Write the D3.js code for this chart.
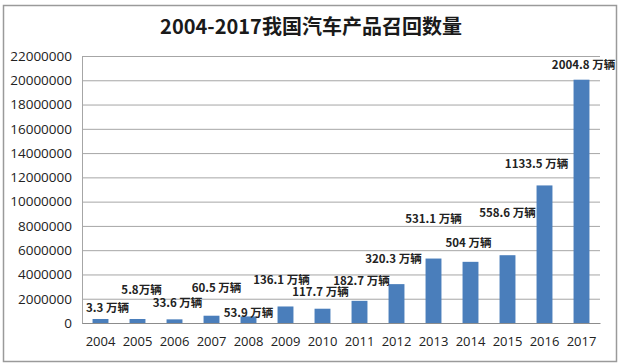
<!DOCTYPE html>
<html>
<head>
<meta charset="utf-8">
<script src="https://cdn.jsdelivr.net/npm/d3@7/dist/d3.min.js"></script>
<style>
  html, body { margin: 0; padding: 0; background: #fff; }
  svg { display: block; }
  .tick text { font-family: "Open Sans", "Noto Sans", sans-serif; fill: #222; }
  .bar-label { font-family: "Noto Sans CJK SC", sans-serif; font-weight: bold; fill: #222; }
</style>
</head>
<body>
<svg id="chart" width="620" height="364"></svg>
<script>
// chart data
const years = ['2004', '2005', '2006', '2007', '2008', '2009', '2010',
  '2011', '2012', '2013', '2014', '2015', '2016', '2017'];
// bar heights as drawn in the picture (vehicles)
const recalls = [330000, 330000, 300000, 600000, 540000, 1361000, 1177000,
  1827000, 3203000, 5311000, 5040000, 5586000, 11335000, 20048000];
// label texts as printed
const labels = ['3.3 万辆', '5.8万辆', '33.6 万辆', '60.5 万辆', '53.9 万辆', '136.1 万辆', '117.7 万辆',
  '182.7 万辆', '320.3 万辆', '531.1 万辆', '504 万辆', '558.6 万辆', '1133.5 万辆', '2004.8 万辆'];
const yTicks = [0, 2000000, 4000000, 6000000, 8000000, 10000000, 12000000,
  14000000, 16000000, 18000000, 20000000, 22000000];

// label nudges in px: [dx from bar centre, height of label centre above bar top]
const labelNudge = [[7, 11], [4, 29], [3, 16], [5, 28], [0, 3], [-4, 27], [-2, 17],
  [2, 20], [-3, 25], [0, 40], [-2, 19], [0, 42], [-8, 21], [2, 15]];

const svg = d3.select('#chart');
const margin = { top: 56, right: 20, bottom: 41, left: 82 };
const width = 620 - margin.left - margin.right;
const height = 364 - margin.top - margin.bottom;

// outer frame
svg.append('rect')
  .attr('x', 3.5).attr('y', 5.5)
  .attr('width', 613).attr('height', 356)
  .attr('fill', 'none')
  .attr('stroke', '#9a9a9a')
  .attr('stroke-width', 1.5);

svg.append('text')
  .attr('x', 311).attr('y', 34)
  .attr('text-anchor', 'middle')
  .attr('font-family', '"Noto Sans CJK SC", sans-serif')
  .attr('font-weight', 'bold')
  .attr('font-size', 20)
  .attr('fill', '#1a1a1a')
  .text('2004-2017我国汽车产品召回数量');

const g = svg.append('g').attr('transform', `translate(${margin.left},${margin.top})`);

const x = d3.scaleBand().domain(years).range([0, width]).paddingInner(0.57).paddingOuter(0.285);
const y = d3.scaleLinear().domain([0, 22000000]).range([height, 0]);

// gridlines + y labels
const yAxis = g.append('g')
  .call(d3.axisLeft(y).tickValues(yTicks).tickSize(-width).tickPadding(10).tickFormat(d3.format('d')));
yAxis.select('.domain').remove();
yAxis.selectAll('.tick line').attr('stroke', '#a6a6a6');
yAxis.selectAll('.tick text').attr('font-size', 13.5);

// left plot edge
g.append('line')
  .attr('x1', 0.5).attr('x2', 0.5)
  .attr('y1', 0).attr('y2', height)
  .attr('stroke', '#a6a6a6');

g.selectAll('.bar')
  .data(recalls)
  .join('rect')
  .attr('class', 'bar')
  .attr('x', (d, i) => x(years[i]))
  .attr('width', x.bandwidth())
  .attr('y', d => y(d))
  .attr('height', d => height - y(d))
  .attr('fill', '#4a7ebb');

// x axis
const xAxis = g.append('g')
  .attr('transform', `translate(0,${height})`)
  .call(d3.axisBottom(x).tickSize(0).tickPadding(14));
xAxis.select('.domain').attr('stroke', '#8c8c8c');
xAxis.selectAll('.tick text').attr('font-size', 13);

g.selectAll('.bar-label')
  .data(labels)
  .join('text')
  .attr('class', 'bar-label')
  .attr('x', (d, i) => x(years[i]) + x.bandwidth() / 2 + labelNudge[i][0])
  .attr('y', (d, i) => y(recalls[i]) - labelNudge[i][1])
  .attr('dy', '0.35em')
  .attr('text-anchor', 'middle')
  .attr('font-size', 11.5)
  .text(d => d);
</script>
</body>
</html>
